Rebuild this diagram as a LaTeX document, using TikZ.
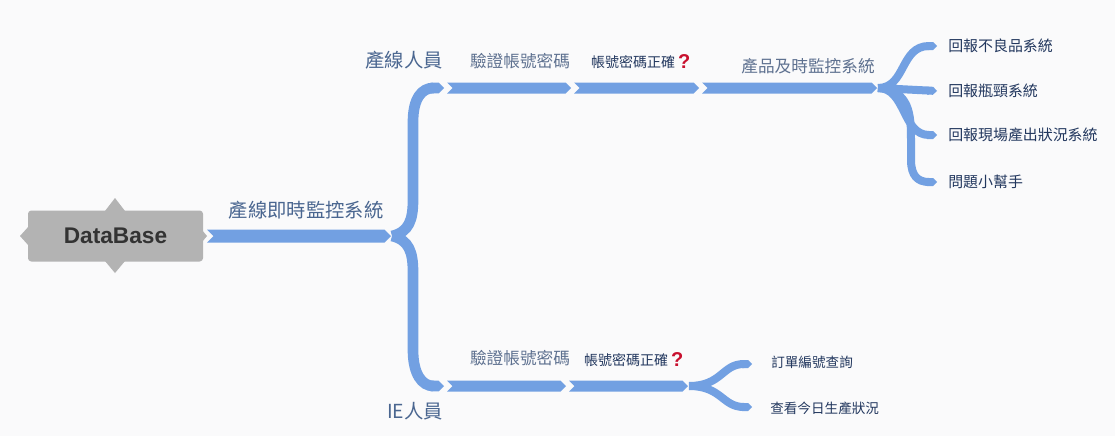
\documentclass[tikz,border=0pt]{standalone}
\usepackage{fontspec}
\setmainfont{Noto Sans CJK TC}
\newfontfamily\latinbold{Liberation Sans}
\usetikzlibrary{arrows.meta}
\definecolor{barc}{HTML}{72A0E2}
\definecolor{bgc}{HTML}{FAFAFB}
\definecolor{dbc}{HTML}{B3B3B3}
\definecolor{lblA}{HTML}{4A6690}
\definecolor{lblB}{HTML}{5E7190}
\definecolor{lblC}{HTML}{22375E}
\definecolor{qred}{HTML}{C8102E}
\newcommand\chev[4]{\fill[barc] (#1,#3-#4) -- (#2-#4,#3-#4) -- (#2,#3) -- (#2-#4,#3+#4) -- (#1,#3+#4) -- (#1+#4,#3) -- cycle;}
\newcommand\qm{{\latinbold\bfseries\color{qred}\fontsize{15}{15}\selectfont ?}}
\tikzset{
  big/.style={text=lblA, font=\fontsize{14.5}{16}\selectfont, inner sep=0pt},
  mid/.style={text=lblB, font=\fontsize{12.5}{14}\selectfont, inner sep=0pt},
  small/.style={text=lblC, font=\fontsize{10.5}{12}\selectfont, inner sep=0pt},
  leaf/.style={text=lblC, font=\fontsize{11.2}{13}\selectfont, inner sep=0pt, anchor=west},
  leafs/.style={text=lblC, font=\fontsize{10.2}{12}\selectfont, inner sep=0pt, anchor=west},
  curve/.style={draw=barc, line width=#1, -{Triangle Cap[]}},
}
\begin{document}
\begin{tikzpicture}[x=0.75pt,y=-0.75pt]
\fill[bgc] (0,0) rectangle (1115,436);
\useasboundingbox (0,0) rectangle (1115,436);
% DataBase node
\fill[dbc] (105,211) -- (115,198) -- (125,211) -- cycle;
\fill[dbc] (105,261) -- (115,273) -- (125,261) -- cycle;
\fill[dbc] (29,226) -- (20,236) -- (29,246) -- cycle;
\fill[dbc] (202,230) -- (207,236) -- (202,242) -- cycle;
\node[fill=dbc, rounded corners=2.5pt, minimum width=131.25pt, minimum height=38.25pt, inner sep=0pt,
  text=black!80, font=\latinbold\bfseries\fontsize{17}{18}\selectfont] (db) at (115.5,236) {DataBase};
% main bar
\coordinate (mainS) at (207,236);
\coordinate (fork) at (392,236);
\chev{207}{391}{236}{6.5}
\node[big] (sys) at (306,210) {產線即時監控系統};
% brace
\coordinate (topS) at (444,88);
\coordinate (botS) at (444,386);
\draw[curve=8pt] (fork) .. controls (409,232) and (413,220) .. (413,200) -- (413,122) .. controls (413,98) and (422,88) .. (topS);
\draw[curve=8pt] (fork) .. controls (409,240) and (413,252) .. (413,272) -- (413,350) .. controls (413,374) and (422,386) .. (botS);
\node[big] (line) at (404,60) {產線人員};
\node[big] (ie) at (415,411) {IE人員};
% top bars
\chev{447}{571}{88}{5.5}
\chev{574}{699}{88}{5.5}
\chev{702}{877}{88}{5.5}
\node[mid] (v1) at (520,61) {驗證帳號密碼};
\node[small] (c1) at (633,62) {帳號密碼正確};
\node[inner sep=0pt, anchor=west] (q1) at (c1.east) {\hspace{2pt}\qm};
\node[mid] (p1) at (808,66) {產品及時監控系統};
% top fork
\coordinate (tf) at (878,88);
\node[leaf] (l1) at (948,46) {回報不良品系統};
\node[leaf] (l2) at (948,91) {回報瓶頸系統};
\node[leaf] (l3) at (948,135) {回報現場產出狀況系統};
\node[leaf] (l4) at (948,182) {問題小幫手};
\draw[curve=6pt] (tf) .. controls (906,88) and (900,46) .. (937,46);
\draw[curve=6pt] (tf) -- (937,91);
\draw[curve=6pt] (tf) .. controls (906,88) and (902,135) .. (937,135);
\draw[curve=6pt] (tf) .. controls (910,90) and (911,115) .. (911,140) -- (911,160) .. controls (911,176) and (918,182) .. (937,182);
% bottom bars
\chev{447}{566}{386}{5.5}
\chev{569}{688}{386}{5.5}
\node[mid] (v2) at (520,358) {驗證帳號密碼};
\node[small] (c2) at (626,360) {帳號密碼正確};
\node[inner sep=0pt, anchor=west] (q2) at (c2.east) {\hspace{2pt}\qm};
% bottom fork
\coordinate (bf) at (689,386);
\node[leafs] (m1) at (771,362) {訂單編號查詢};
\node[leafs] (m2) at (770,408) {查看今日生產狀況};
\draw[curve=6pt] (bf) .. controls (722,386) and (722,364) .. (752,364);
\draw[curve=6pt] (bf) .. controls (722,386) and (722,407) .. (752,407);
\end{tikzpicture}
\end{document}
